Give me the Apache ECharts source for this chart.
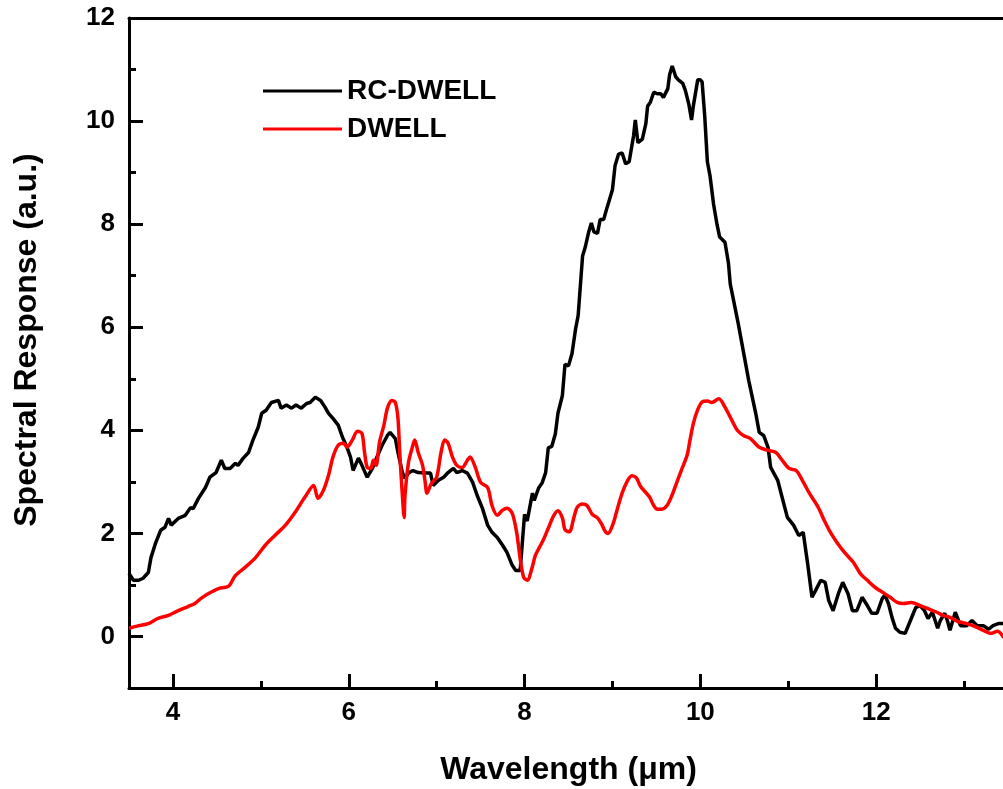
<!DOCTYPE html>
<html>
<head>
<meta charset="utf-8">
<script src="https://cdn.jsdelivr.net/npm/echarts@6/dist/echarts.min.js"></script>
<style>
html,body{margin:0;padding:0;background:#fff;}
#chart{width:1003px;height:789px;}
</style>
</head>
<body>
<div id="chart"></div>
<script>
// ---- data ----
const seriesNames = ['RC-DWELL', 'DWELL'];
const xMajorTicks = [4, 6, 8, 10, 12];
const xMinorTicks = [5, 7, 9, 11, 13];
const yMajorTicks = [0, 2, 4, 6, 8, 10, 12];
const yMinorTicks = [1, 3, 5, 7, 9, 11];

const rcWavelength = [3.50,3.55,3.61,3.66,3.72,3.75,3.80,3.86,3.91,3.95,3.98,4.06,4.14,4.20,4.23,4.29,4.37,4.42,4.49,4.55,4.59,4.65,4.71,4.74,4.80,4.86,4.91,4.97,5.01,5.06,5.12,5.20,5.23,5.29,5.35,5.40,5.46,5.52,5.56,5.62,5.68,5.73,5.77,5.82,5.88,5.93,5.98,6.02,6.05,6.11,6.15,6.21,6.27,6.32,6.38,6.44,6.47,6.53,6.56,6.61,6.64,6.68,6.73,6.79,6.87,6.93,6.96,7.02,7.08,7.13,7.19,7.23,7.29,7.35,7.41,7.46,7.52,7.58,7.63,7.69,7.75,7.80,7.86,7.90,7.95,7.97,8.00,8.03,8.09,8.11,8.16,8.20,8.24,8.27,8.31,8.35,8.38,8.43,8.46,8.50,8.54,8.58,8.61,8.66,8.69,8.73,8.76,8.79,8.83,8.86,8.90,8.94,8.97,9.00,9.03,9.07,9.11,9.15,9.19,9.24,9.26,9.29,9.34,9.38,9.40,9.43,9.47,9.51,9.55,9.58,9.63,9.65,9.68,9.72,9.75,9.80,9.83,9.87,9.90,9.92,9.97,10.00,10.02,10.05,10.08,10.11,10.15,10.19,10.22,10.28,10.32,10.34,10.43,10.55,10.63,10.67,10.72,10.77,10.80,10.88,10.93,10.99,11.06,11.12,11.17,11.22,11.27,11.31,11.37,11.42,11.46,11.51,11.57,11.62,11.68,11.73,11.78,11.84,11.90,11.95,12.01,12.07,12.10,12.14,12.18,12.22,12.27,12.33,12.39,12.45,12.50,12.55,12.59,12.64,12.70,12.73,12.78,12.81,12.84,12.90,12.96,13.03,13.09,13.15,13.22,13.28,13.33,13.39,13.45];
const rcResponse = [1.22,1.09,1.09,1.13,1.24,1.53,1.80,2.06,2.12,2.29,2.16,2.29,2.35,2.50,2.48,2.68,2.89,3.09,3.18,3.42,3.26,3.26,3.36,3.32,3.46,3.57,3.81,4.06,4.33,4.39,4.54,4.58,4.43,4.49,4.43,4.49,4.43,4.52,4.54,4.64,4.58,4.45,4.33,4.23,4.10,3.86,3.67,3.48,3.22,3.46,3.32,3.09,3.26,3.48,3.71,3.90,3.96,3.84,3.57,3.18,3.07,3.17,3.22,3.18,3.17,3.17,2.93,3.03,3.09,3.18,3.26,3.18,3.22,3.17,2.99,2.74,2.49,2.16,2.02,1.92,1.77,1.63,1.38,1.28,1.28,1.29,2.37,2.24,2.78,2.64,2.88,2.98,3.18,3.66,3.69,3.93,4.33,4.67,5.28,5.25,5.49,5.96,6.23,7.38,7.55,7.85,8.02,7.85,7.82,8.09,8.09,8.33,8.50,8.67,9.14,9.36,9.38,9.17,9.21,9.71,10.02,9.58,9.65,9.95,10.29,10.36,10.56,10.53,10.53,10.46,10.63,10.90,11.07,10.86,10.80,10.73,10.59,10.32,10.02,10.29,10.80,10.80,10.76,10.09,9.21,8.94,8.39,7.99,7.75,7.65,7.24,6.84,6.08,4.97,4.33,3.96,3.90,3.67,3.28,3.03,2.70,2.31,2.16,1.96,2.02,1.42,0.76,0.89,1.09,1.05,0.70,0.50,0.83,1.05,0.83,0.50,0.50,0.76,0.60,0.45,0.45,0.74,0.80,0.64,0.37,0.16,0.08,0.06,0.31,0.56,0.60,0.50,0.35,0.47,0.16,0.31,0.45,0.31,0.12,0.47,0.21,0.21,0.31,0.21,0.21,0.14,0.21,0.25,0.25];

const dwWavelength = [3.50,3.61,3.72,3.83,3.95,4.06,4.17,4.25,4.32,4.40,4.52,4.63,4.71,4.82,4.94,5.05,5.16,5.28,5.39,5.50,5.60,5.65,5.71,5.77,5.82,5.88,5.94,5.98,6.04,6.10,6.15,6.18,6.21,6.25,6.28,6.31,6.35,6.40,6.44,6.49,6.53,6.56,6.58,6.61,6.63,6.64,6.68,6.72,6.75,6.79,6.84,6.87,6.89,6.94,7.00,7.05,7.09,7.13,7.18,7.23,7.29,7.35,7.38,7.44,7.50,7.58,7.63,7.69,7.75,7.80,7.86,7.91,7.95,7.99,8.03,8.09,8.12,8.16,8.21,8.27,8.33,8.38,8.43,8.46,8.51,8.56,8.60,8.66,8.71,8.77,8.83,8.88,8.92,8.95,9.01,9.05,9.11,9.17,9.22,9.27,9.32,9.37,9.42,9.47,9.51,9.56,9.62,9.68,9.73,9.79,9.85,9.88,9.92,9.97,10.02,10.08,10.13,10.21,10.28,10.36,10.42,10.49,10.57,10.67,10.77,10.86,10.93,11.01,11.09,11.16,11.24,11.34,11.41,11.48,11.56,11.65,11.74,11.82,11.90,11.99,12.08,12.16,12.24,12.31,12.40,12.50,12.59,12.69,12.76,12.84,12.93,13.03,13.10,13.22,13.30,13.38,13.45];
const dwResponse = [0.16,0.21,0.25,0.35,0.41,0.50,0.58,0.64,0.74,0.83,0.93,0.97,1.18,1.34,1.53,1.77,1.96,2.16,2.41,2.70,2.93,2.68,2.83,3.13,3.48,3.71,3.75,3.67,3.81,3.98,3.94,3.57,3.28,3.26,3.42,3.32,3.77,4.10,4.43,4.58,4.54,4.23,3.57,2.74,2.31,2.74,3.38,3.65,3.81,3.57,3.32,2.99,2.78,2.97,3.09,3.57,3.81,3.75,3.48,3.32,3.28,3.42,3.48,3.28,2.99,2.89,2.54,2.35,2.45,2.49,2.39,2.02,1.51,1.15,1.09,1.36,1.56,1.70,1.86,2.10,2.34,2.44,2.30,2.07,2.03,2.30,2.51,2.57,2.54,2.37,2.30,2.17,2.03,2.00,2.20,2.44,2.78,3.02,3.12,3.08,2.91,2.81,2.71,2.54,2.47,2.47,2.54,2.75,2.98,3.25,3.52,3.79,4.13,4.40,4.55,4.57,4.54,4.61,4.45,4.19,4.00,3.90,3.84,3.67,3.61,3.57,3.42,3.26,3.22,3.03,2.78,2.51,2.25,2.02,1.81,1.61,1.44,1.22,1.09,0.95,0.85,0.76,0.66,0.64,0.66,0.60,0.54,0.47,0.41,0.37,0.29,0.25,0.21,0.12,0.06,0.10,-0.02];

const xTitle = 'Wavelength (\u03bcm)';
const yTitle = 'Spectral Response (a.u.)';

// ---- chart ----
const zip = (xs, ys) => xs.map((x, i) => [x, ys[i]]);
const FONT = '"Liberation Sans", Arial, sans-serif';
const X_MIN = 3.5, X_MAX = 13.5, Y_MIN = -1, Y_MAX = 12;

const chart = echarts.init(document.getElementById('chart'), null, {renderer: 'canvas'});
const axisLine = {show: true, onZero: false, lineStyle: {color: '#000', width: 3}};
const noLine = {show: false, onZero: false};
const labelStyle = {color: '#000', fontFamily: FONT, fontWeight: 'bold', fontSize: 26};
const titleStyle = {color: '#000', fontFamily: FONT, fontWeight: 'bold', fontSize: 32};

chart.setOption({
  animation: false,
  backgroundColor: '#fff',
  grid: {left: 129, top: 18, width: 879, height: 670, containLabel: false, outerBoundsMode: 'none'},
  legend: {
    orient: 'vertical', left: 263, top: 77, padding: 0,
    icon: 'rect', itemWidth: 79, itemHeight: 3, itemGap: 10,
    textStyle: {color: '#000', fontFamily: FONT, fontWeight: 'bold', fontSize: 28, lineHeight: 28},
    data: seriesNames
  },
  xAxis: [
    {
      type: 'value', min: X_MIN, max: X_MAX, position: 'bottom',
      axisLine: axisLine, splitLine: {show: false},
      axisTick: {show: true, inside: true, length: 14, lineStyle: {width: 3, color: '#000'}, customValues: xMajorTicks},
      axisLabel: Object.assign({margin: 12, customValues: xMajorTicks}, labelStyle),
      name: xTitle, nameLocation: 'middle', nameGap: 66,
      nameTextStyle: titleStyle
    },
    {
      type: 'value', min: X_MIN, max: X_MAX, position: 'bottom',
      axisLine: noLine, splitLine: {show: false}, axisLabel: {show: false},
      axisTick: {show: true, inside: true, length: 7, lineStyle: {width: 3, color: '#000'}, customValues: xMinorTicks}
    },
    {
      type: 'value', min: X_MIN, max: X_MAX, position: 'top',
      axisLine: axisLine, splitLine: {show: false}, axisLabel: {show: false},
      axisTick: {show: false}
    }
  ],
  yAxis: [
    {
      type: 'value', min: Y_MIN, max: Y_MAX, position: 'left',
      axisLine: axisLine, splitLine: {show: false},
      axisTick: {show: true, inside: true, length: 14, lineStyle: {width: 3, color: '#000'}, customValues: yMajorTicks},
      axisLabel: Object.assign({margin: 14, customValues: yMajorTicks}, labelStyle),
      name: yTitle, nameLocation: 'middle', nameGap: 86,
      nameTextStyle: Object.assign({padding: [0, 0, 0, 26]}, titleStyle)
    },
    {
      type: 'value', min: Y_MIN, max: Y_MAX, position: 'left',
      axisLine: noLine, splitLine: {show: false}, axisLabel: {show: false},
      axisTick: {show: true, inside: true, length: 7, lineStyle: {width: 3, color: '#000'}, customValues: yMinorTicks}
    }
  ],
  series: [
    {
      name: seriesNames[0], type: 'line', xAxisIndex: 0, yAxisIndex: 0,
      data: zip(rcWavelength, rcResponse), symbol: 'none', smooth: false,
      lineStyle: {color: '#000', width: 3.5}, itemStyle: {color: '#000'}, z: 2
    },
    {
      name: seriesNames[1], type: 'line', xAxisIndex: 0, yAxisIndex: 0,
      data: zip(dwWavelength, dwResponse), symbol: 'none', smooth: 0.3,
      lineStyle: {color: '#ff0000', width: 3.5}, itemStyle: {color: '#ff0000'}, z: 3
    }
  ]
});
</script>
</body>
</html>
